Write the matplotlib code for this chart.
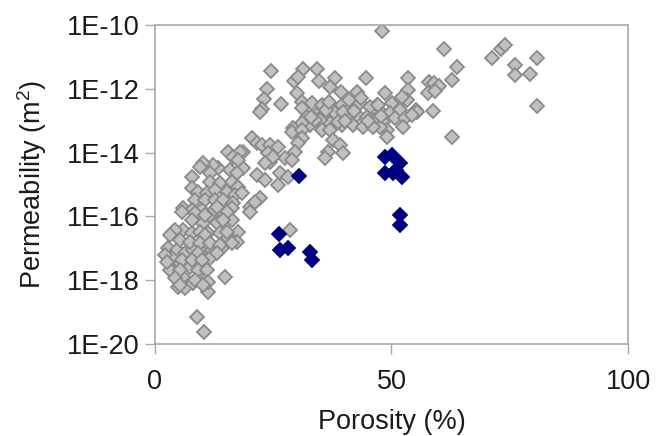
import numpy as np
import matplotlib
matplotlib.use("Agg")
import matplotlib.pyplot as plt
from matplotlib.ticker import FixedLocator, FixedFormatter, NullLocator

plt.rcParams['font.family'] = ['Liberation Sans', 'DejaVu Sans']
plt.rcParams['mathtext.fontset'] = 'custom'
plt.rcParams['mathtext.rm'] = 'Liberation Sans'
plt.rcParams['mathtext.default'] = 'regular'

# ---- data (porosity %, log10 permeability m^2) ----
porosity_gray = [
    48.0, 61.1, 63.8, 62.8, 58.8, 62.8, 71.2, 73.2, 74.0, 76.1, 76.1, 79.3, 80.8, 80.8,
    58.0, 59.0, 60.0, 57.7, 59.2, 53.5, 53.5, 55.2,
    48.6, 50.1, 52.2, 53.3, 55.4, 46.9, 48.0, 49.7, 51.8, 50.7, 52.9, 48.2, 46.1, 52.4,
    49.0, 54.3, 49.0, 47.6, 52.2,
    24.5, 31.3, 34.2, 29.4, 30.2, 34.7, 38.1, 37.0, 44.6, 39.3, 42.7, 23.7, 23.0, 22.6,
    26.6, 30.0, 31.1,
    31.1, 33.2, 35.3, 37.4, 39.5, 41.2, 43.3, 45.5, 47.1, 32.1, 34.2, 35.9, 38.5, 40.6,
    42.7, 44.8, 32.8, 34.9, 37.0, 39.5, 41.9, 44.0, 46.1, 29.2, 31.1,
    22.2, 38.1, 39.7, 34.9, 38.7, 29.0, 35.3, 37.0, 31.1, 31.1, 30.2, 37.6, 39.1, 29.6,
    36.6, 35.9, 39.7,
    20.5, 21.6, 22.6, 24.3, 26.0, 18.6, 23.9, 27.5, 29.0, 24.3, 18.6, 21.6, 23.3, 26.4,
    28.1, 26.0, 22.2, 24.9,
    15.4, 18.0, 16.5, 17.5, 15.9, 13.3, 12.3, 10.1, 9.5, 7.8, 11.6, 17.3, 23.3,
    11.6, 13.7, 16.3, 17.5, 7.8, 9.1, 11.0, 12.7, 15.2, 16.9, 18.4, 8.5, 10.6, 12.7,
    14.4, 16.5, 20.1, 21.1, 5.9, 7.8, 9.9, 12.1, 14.2, 16.3, 8.9, 11.2, 16.3, 13.1,
    10.1, 13.1, 3.8, 5.9, 7.8, 9.5, 11.2, 13.7, 17.5, 17.3, 15.4,
    2.7, 4.7, 6.3, 8.0, 9.9, 12.1, 14.2, 11.6, 3.2, 5.3, 7.4, 9.5, 3.8, 5.9,
    4.9, 6.3, 8.0, 10.6, 11.2, 14.8, 28.5, 8.9, 10.4,
    5.7, 8.5, 10.6, 15.2, 20.1, 7.8, 14.4, 4.2, 10.6, 15.2, 3.2, 5.3, 7.4, 9.5,
    11.6, 13.7, 16.3, 9.1, 13.1, 3.6, 5.7, 7.8, 9.9, 3.2, 5.3, 9.1, 11.0, 4.2,
    8.5, 5.3, 11.2, 10.1, 2.1, 2.5,
    33.8, 36.2, 40.2, 42.0, 45.0, 43.6, 36.8, 33.0, 41.0, 47.8,
]
log_perm_gray = [
    -10.19, -10.75, -11.32, -11.72, -12.70, -13.51, -11.03, -10.75, -10.63, -11.25, -11.57, -11.54, -11.03, -12.54,
    -11.79, -11.82, -11.91, -12.13, -12.07, -11.66, -12.04, -12.66,
    -12.13, -12.45, -12.35, -12.35, -12.73, -12.51, -12.76, -12.76, -12.66, -12.92, -12.92, -13.04, -12.98, -13.20,
    -13.29, -12.82, -13.51, -13.20, -12.26,
    -11.44, -11.38, -11.38, -11.76, -11.63, -11.76, -11.66, -11.94, -11.66, -12.10, -12.10, -12.01, -12.32, -12.63,
    -12.48, -12.13, -12.41,
    -12.60, -12.45, -12.51, -12.60, -12.51, -12.60, -12.45, -12.57, -12.51, -12.88, -12.82, -12.76, -12.82, -12.88,
    -12.82, -12.88, -13.14, -13.14, -13.07, -13.14, -13.14, -13.20, -13.20, -13.23, -13.07,
    -12.73, -12.76, -12.73, -12.98, -13.04, -13.35, -13.29, -13.29, -13.29, -13.54, -13.70, -13.61, -13.76, -13.98,
    -13.98, -14.17, -14.01,
    -13.54, -13.70, -13.76, -13.76, -13.82, -13.98, -14.01, -14.17, -14.23, -14.29, -14.48, -14.70, -14.86, -14.64,
    -14.76, -15.02, -15.42, -14.14,
    -13.98, -13.98, -14.14, -14.23, -14.55, -14.48, -14.39, -14.33, -14.45, -14.76, -14.64, -14.64, -14.33,
    -14.92, -14.95, -14.92, -15.08, -15.11, -15.24, -15.27, -15.17, -15.24, -15.33, -15.27, -15.49, -15.49, -15.49,
    -15.49, -15.58, -15.71, -15.55, -15.74, -15.80, -15.80, -15.86, -15.86, -15.74, -16.02, -16.02, -16.11, -15.71,
    -16.21, -16.21, -16.49, -16.43, -16.52, -16.49, -16.52, -16.52, -16.49, -16.80, -16.68,
    -16.99, -17.05, -17.15, -17.05, -17.12, -17.05, -16.99, -17.30, -17.46, -17.46, -17.59, -17.52, -17.74, -17.90,
    -18.21, -18.24, -18.09, -17.99, -18.37, -17.90, -16.43, -19.15, -19.62,
    -15.86, -15.89, -15.96, -15.86, -15.86, -16.11, -16.11, -16.43, -16.58, -16.49, -16.58, -16.74, -16.80, -16.83,
    -16.83, -16.90, -16.83, -17.15, -17.15, -17.30, -17.37, -17.37, -17.37, -17.68, -17.68, -17.68, -17.68, -17.93,
    -17.99, -18.15, -18.06, -18.15, -17.21, -17.43,
    -12.98, -12.66, -13.00, -12.70, -13.02, -12.30, -12.40, -12.90, -12.35, -12.85,
]
porosity_blue = [30.4, 48.6, 50.1, 51.8, 48.6, 50.3, 52.2, 51.0, 51.8, 51.8, 26.2, 26.4, 28.1, 32.8, 33.2]
log_perm_blue = [-14.73, -14.14, -14.08, -14.33, -14.64, -14.64, -14.76, -14.55, -15.96, -16.27,
                 -16.55, -17.05, -16.99, -17.12, -17.37]

x_ticks = [0, 50, 100]
y_ticks = [1e-20, 1e-18, 1e-16, 1e-14, 1e-12, 1e-10]
y_tick_labels = ['1E-20', '1E-18', '1E-16', '1E-14', '1E-12', '1E-10']

perm_gray = 10.0 ** np.array(log_perm_gray)
perm_blue = 10.0 ** np.array(log_perm_blue)

fig = plt.figure(figsize=(6.64, 4.36), dpi=100)
ax = fig.add_axes([0.2334, 0.211, 0.7124, 0.7317])

ax.plot(porosity_gray, perm_gray, linestyle='none', marker='D', markersize=6.8,
        markerfacecolor='#C0C0C0', markeredgecolor='#8A8A8A', markeredgewidth=1.3)
ax.plot(porosity_blue, perm_blue, linestyle='none', marker='D', markersize=6.8,
        markerfacecolor='#000080', markeredgecolor='#000080', markeredgewidth=1.3)

ax.set_yscale('log')
ax.set_xlim(0, 100)
ax.set_ylim(1e-20, 1e-10)
ax.xaxis.set_major_locator(FixedLocator(x_ticks))
ax.yaxis.set_major_locator(FixedLocator(y_ticks))
ax.yaxis.set_major_formatter(FixedFormatter(y_tick_labels))
ax.yaxis.set_minor_locator(NullLocator())
ax.xaxis.set_minor_locator(NullLocator())

spine_color = '#A8A8A8'
for s in ax.spines.values():
    s.set_color(spine_color)
    s.set_linewidth(1.2)
ax.tick_params(axis='both', direction='out', length=7, width=1.0, color=spine_color,
               labelsize=19.5, labelcolor='#1a1a1a')
ax.tick_params(axis='x', pad=11)
ax.tick_params(axis='y', pad=4)

ax.set_xlabel('Porosity (%)', fontsize=19.5, color='#1a1a1a', labelpad=10)
ax.set_ylabel('Permeability (m$^{2}$)', fontsize=19.5, color='#1a1a1a', labelpad=13)

fig.savefig('out.png', dpi=100)
